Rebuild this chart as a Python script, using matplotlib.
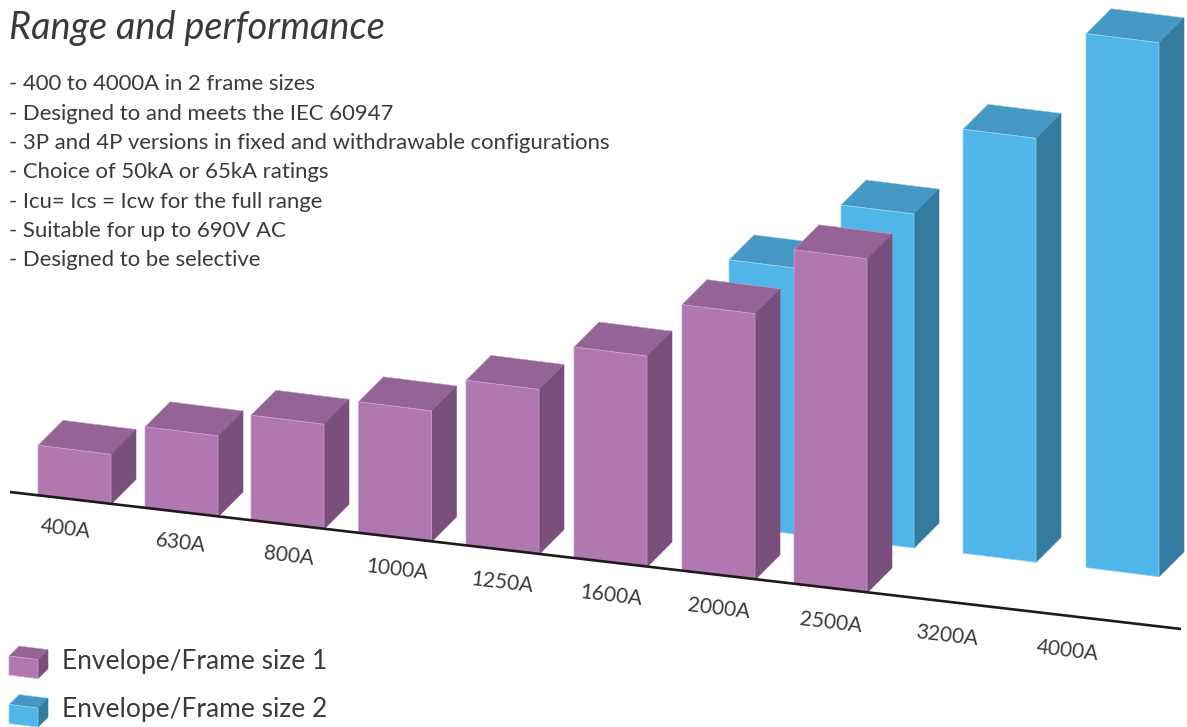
#!/usr/bin/env python3
# -*- coding: utf-8 -*-
"""Range and performance: pseudo 3D bars, drawn in a pixel sized axes."""
import matplotlib; matplotlib.use("Agg"); import matplotlib.pyplot as plt
from matplotlib.patches import Polygon

# data
ratings = ["400A","630A","800A","1000A","1250A","1600A","2000A","2500A","3200A","4000A"]
frame1_heights = [50,81,105,131,165,211,266,334]
frame2_ratings = ["2000A","2500A","3200A","4000A"]
frame2_heights = [266,334,424,534]
bullets = ["400 to 4000A in 2 frame sizes",
           "Designed to and meets the IEC 60947",
           "3P and 4P versions in fixed and withdrawable configurations",
           "Choice of 50kA or 65kA ratings",
           "Icu= Ics = Icw for the full range",
           "Suitable for up to 690V AC",
           "Designed to be selective"]
legend_names = ["Envelope/Frame size 1","Envelope/Frame size 2"]

# layout (pixels)
SLOT_X = [38,145,251,358.5,466,574,682,794,918,1041]
FRAME2_X = [729,841,963,1086]
LABEL_X = [66,181,289,397,502,611,719,831,947,1068]
LABEL_DY = [30,30.5,31,32.5,33,33.5,33.5,34.5,34.5,34.5]
AXIS = (10,492,1181,629)
SLOPE = (AXIS[3]-AXIS[1])/(AXIS[2]-AXIS[0])
W,D,FACE = 73,25,0.125
BACK = 45
PURPLE = ("#B077B1","#956496","#7B4F7C","#C9A3CA")
BLUE = ("#50B5E9","#4598C4","#337B9F","#9AD6F3")
TXT = "#3A3A3A"
FONT = "Lato"

def axis_y(x):
    return AXIS[1]+SLOPE*(x-AXIS[0])

def cube(ax,x,y,h,col,w=W,d=D,z=2):
    # x,y = bottom left of the front face, y grows downwards
    s=FACE*w
    front=[(x,y),(x,y-h),(x+w,y-h+s),(x+w,y+s)]
    top=[(x,y-h),(x+d,y-h-d),(x+w+d,y-h+s-d),(x+w,y-h+s)]
    side=[(x+w,y-h+s),(x+w+d,y-h+s-d),(x+w+d,y+s-d),(x+w,y+s)]
    ax.add_patch(Polygon(top,fc=col[1],ec=col[3],lw=0.4,zorder=z))
    ax.add_patch(Polygon(side,fc=col[2],ec=col[2],lw=0.4,zorder=z))
    ax.add_patch(Polygon(front,fc=col[0],ec=col[3],lw=0.5,zorder=z))

def main():
    fig=plt.figure(figsize=(11.87,7.27),dpi=100)
    ax=fig.add_axes([0,0,1,1])
    ax.set_xlim(0,1187); ax.set_ylim(727,0); ax.axis("off")

    # blue row stands behind the purple one
    for x,h in zip(FRAME2_X,frame2_heights):
        cube(ax,x,axis_y(x-BACK)-BACK,h,BLUE,z=2)
    for i,h in enumerate(frame1_heights):
        cube(ax,SLOT_X[i],axis_y(SLOT_X[i]),h,PURPLE,z=3)

    ax.plot([AXIS[0],AXIS[2]],[AXIS[1],AXIS[3]],color="#1E1A1C",lw=1.9,zorder=4,solid_capstyle="butt")

    for name,lx,dy in zip(ratings,LABEL_X,LABEL_DY):
        ax.text(lx,axis_y(lx)+dy,name,rotation=-6.7,rotation_mode="anchor",ha="center",va="center",
                fontsize=15,color=TXT,family=FONT)

    ax.text(9,39,"Range and performance",fontsize=27.3,style="italic",
            color=TXT,family=FONT,va="baseline")
    for i,t in enumerate(bullets):
        ax.text(9,84.5+i*29.3,"- "+t,fontsize=15.9,color=TXT,family=FONT,va="center")

    cube(ax,9,675,19,PURPLE,w=29,d=10)
    cube(ax,9,723.5,19,BLUE,w=29,d=10)
    for y,t in zip((661,710),legend_names):
        ax.text(62,y,t,fontsize=19,color=TXT,family=FONT,va="center")

    fig.savefig("out.png",dpi=100)
    plt.close(fig)

if __name__=="__main__": main()
